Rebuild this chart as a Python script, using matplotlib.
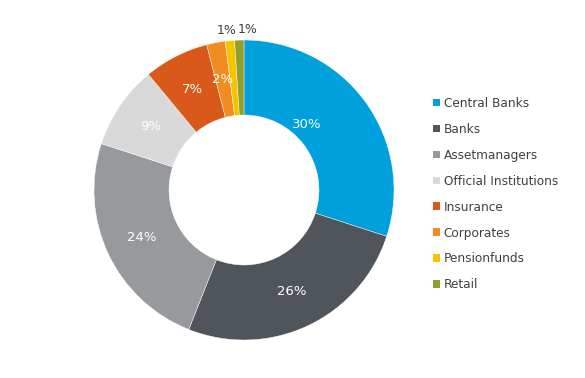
import numpy as np
import matplotlib.pyplot as plt
from matplotlib.patches import Patch

# data
categories = ['Central Banks', 'Banks', 'Assetmanagers', 'Official Institutions',
              'Insurance', 'Corporates', 'Pensionfunds', 'Retail']
shares = [30, 26, 24, 9, 7, 2, 1, 1]
colors = ['#00A0DC', '#50555B', '#979A9D', '#D9D9D9',
          '#D9591A', '#F08C22', '#F2C500', '#8FA02B']

fig = plt.figure(figsize=(5.85, 3.78), dpi=100)
ax = fig.add_axes([94 / 585, 38 / 378, 300 / 585, 300 / 378])

wedges, texts, autotexts = ax.pie(
    shares, colors=colors, startangle=90, counterclock=False,
    radius=1, wedgeprops=dict(width=0.5, edgecolor='white', linewidth=0.3),
    autopct='%d%%', pctdistance=0.75,
    textprops=dict(color='white', fontsize=9.5))
ax.set_xlim(-1, 1)
ax.set_ylim(-1, 1)
ax.set_aspect('equal')

# 30% label sits a bit further in on the original
autotexts[0].set_position((0.42, 0.44))

# tiny slices get their labels outside the ring
for i, t in enumerate(autotexts):
    if shares[i] < 2:
        w = wedges[i]
        ang = np.deg2rad((w.theta1 + w.theta2) / 2)
        x, y = 1.07 * np.cos(ang), 1.07 * np.sin(ang)
        if i == len(shares) - 1:
            x += 0.06
        else:
            x -= 0.015
        t.set_position((x, y))
        t.set_color('#404040')
        t.set_fontsize(9)

handles = [Patch(facecolor=c, edgecolor='none') for c in colors]
fig.legend(handles, categories, loc='upper left', bbox_to_anchor=(422 / 585, 1 - 86 / 378),
           frameon=False, fontsize=8.7, handlelength=0.6, handleheight=0.6,
           handletextpad=0.3, labelspacing=1.07, labelcolor='#404040')

fig.savefig('out.png', dpi=100)
